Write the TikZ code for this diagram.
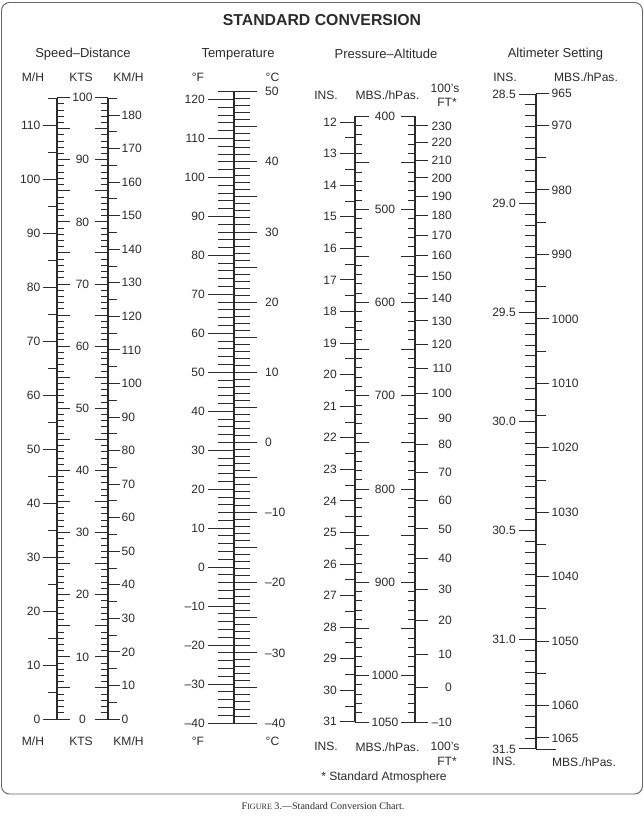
\documentclass[tikz,border=0pt]{standalone}
\usepackage{fontspec}
\setmainfont{Liberation Sans}
\newfontfamily\capfont{Liberation Serif}
\definecolor{ink}{HTML}{2B2B2B}
\newcommand\dashnum[1]{\ifnum#1<0 \textendash\number\numexpr0-#1\relax\else#1\fi}

\tikzset{
  axisline/.style={draw=ink, line width=0.95pt},
  tk/.style={draw=ink, line width=0.8pt},
  lbl/.style={inner sep=0pt, text=ink, font=\fontsize{10.3}{12}\selectfont},
  head/.style={inner sep=0pt, text=ink, font=\fontsize{11.1}{13}\selectfont},
}

\begin{document}
\begin{tikzpicture}[x=0.3mm, y=-0.3mm]
  \useasboundingbox (0,0) rectangle (644,817);
  \draw[draw=gray!80!black, line width=0.8pt, rounded corners=2.4mm] (1.5,2.5) rectangle (642.5,794);
  \node[inner sep=0pt, text=ink, font=\fontsize{13.5}{15}\selectfont\bfseries] (title) at (322,20) {STANDARD CONVERSION};

  % speed - distance
  \node[head] (hspeed) at (83,54) {Speed\textendash Distance};
  \node[lbl] (mphtop) at (33,77) {M/H};
  \node[lbl] (ktstop) at (81,77) {KTS};
  \node[lbl] (kmhtop) at (128.5,77) {KM/H};
  \node[lbl] (mphbot) at (33,741) {M/H};
  \node[lbl] (ktsbot) at (81,741) {KTS};
  \node[lbl] (kmhbot) at (128.5,741) {KM/H};
  \draw[axisline] (57,97.6) -- (57,719);
  \draw[axisline] (108,97.6) -- (108,719);
  \foreach \k in {0,...,100}{
    \pgfmathsetmacro\yk{719-6.2142*\k}
    \pgfmathtruncatemacro\rfive{mod(\k,5)}
    \pgfmathtruncatemacro\rten{mod(\k,10)}
    \ifnum\rfive=0
      \draw[tk] (57,\yk) -- (70,\yk) (95,\yk) -- (108,\yk);
    \else
      \draw[tk] (57,\yk) -- (64,\yk) (101,\yk) -- (108,\yk);
    \fi
    \ifnum\rten=0
      \node[lbl] (kts\k) at (82.5,\yk) {\k};
    \fi
  }
  \foreach \m in {0,5,...,115}{
    \pgfmathsetmacro\ym{719-5.4*\m}
    \pgfmathtruncatemacro\rten{mod(\m,10)}
    \ifnum\rten=0
      \draw[tk] (43,\ym) -- (57,\ym);
      \node[lbl, anchor=east] (mph\m) at (40.5,\ym) {\m};
    \else
      \draw[tk] (48,\ym) -- (57,\ym);
    \fi
  }
  \foreach \c in {0,5,...,185}{
    \pgfmathsetmacro\yc{719-3.3554*\c}
    \pgfmathtruncatemacro\rten{mod(\c,10)}
    \ifnum\rten=0
      \draw[tk] (108,\yc) -- (120,\yc);
      \node[lbl, anchor=west] (kmh\c) at (121.5,\yc) {\c};
    \else
      \draw[tk] (108,\yc) -- (117,\yc);
    \fi
  }

  % temperature
  \node[head] (htemp) at (238,54) {Temperature};
  \node[lbl] (degftop) at (198,77) {°F};
  \node[lbl] (degctop) at (272.5,77) {°C};
  \node[lbl] (degfbot) at (198,741) {°F};
  \node[lbl] (degcbot) at (272.5,741) {°C};
  \draw[axisline] (234,91.7) -- (234,723);
  \foreach \f in {-40,-38,...,122}{
    \pgfmathsetmacro\yf{723-3.897*(\f+40)}
    \pgfmathtruncatemacro\rten{mod(\f,10)}
    \ifnum\rten=0
      \draw[tk] (208,\yf) -- (234,\yf);
      \node[lbl, anchor=east] (degf\f) at (205,\yf) {\dashnum{\f}};
    \else
      \draw[tk] (218,\yf) -- (234,\yf);
    \fi
  }
  \foreach \c in {-40,...,50}{
    \pgfmathsetmacro\yc{723-3.897*(1.8*\c+72)}
    \pgfmathtruncatemacro\rfive{mod(\c,5)}
    \pgfmathtruncatemacro\rten{mod(\c,10)}
    \ifnum\rfive=0
      \draw[tk] (234,\yc) -- (257,\yc);
    \else
      \draw[tk] (234,\yc) -- (250,\yc);
    \fi
    \ifnum\rten=0
      \node[lbl, anchor=west] (degc\c) at (265,\yc) {\dashnum{\c}};
    \fi
  }

  % pressure - altitude
  \node[head] (hpress) at (386,54) {Pressure\textendash Altitude};
  \node[lbl] (instop) at (326,95) {INS.};
  \node[lbl] (mbtop) at (387.5,95) {MBS./hPas.};
  \node[lbl] (fttop) at (445,88) {100's};
  \node[lbl] (ftstar) at (447,102.7) {FT*};
  \node[lbl] (insbot) at (326,746.7) {INS.};
  \node[lbl] (mbbot) at (387.5,746.7) {MBS./hPas.};
  \node[lbl] (ftbot) at (445,746.7) {100's};
  \node[lbl] (ftstarbot) at (447,761) {FT*};
  \node[lbl] (stdatm) at (384,777.5) {* Standard Atmosphere};
  \draw[axisline] (355,116.2) -- (355,722);
  \draw[axisline] (415,116.2) -- (415,722);
  \foreach \p in {400,410,...,1050}{
    \pgfmathsetmacro\yp{722-0.932*(1050-\p)}
    \pgfmathtruncatemacro\rfifty{mod(\p,50)}
    \ifnum\rfifty=0
      \draw[tk] (355,\yp) -- (369,\yp) (401,\yp) -- (415,\yp);
    \else
      \draw[tk] (355,\yp) -- (362,\yp) (408,\yp) -- (415,\yp);
    \fi
  }
  \foreach \p in {400,500,...,1000,1050}{
    \pgfmathsetmacro\yp{722-0.932*(1050-\p)}
    \node[lbl] (mb\p) at (385,\yp) {\p};
  }
  \foreach \i in {24,...,62}{
    \pgfmathsetmacro\yi{722-0.932*(1050-33.8639*\i/2)}
    \pgfmathtruncatemacro\rtwo{mod(\i,2)}
    \pgfmathtruncatemacro\ins{\i/2}
    \ifnum\rtwo=0
      \draw[tk] (340,\yi) -- (355,\yi);
      \node[lbl, anchor=east] (ins\ins) at (337,\yi) {\ins};
    \else
      \draw[tk] (345,\yi) -- (355,\yi);
    \fi
  }
  \foreach \h in {-10,0,...,230}{
    \pgfmathsetmacro\ph{1013.25*(1-0.00068756*\h)^5.2559}
    \pgfmathsetmacro\yh{722-0.932*(1050-\ph)}
    \draw[tk] (415,\yh) -- (428,\yh);
    \node[lbl, anchor=east] (ft\h) at (452,\yh) {\dashnum{\h}};
  }

  % altimeter setting
  \node[head] (halt) at (555.5,54) {Altimeter Setting};
  \node[lbl] (alinstop) at (505,77) {INS.};
  \node[lbl] (almbtop) at (586,77) {MBS./hPas.};
  \node[lbl] (alinsbot) at (504,761.7) {INS.};
  \node[lbl] (almbbot) at (584,761.7) {MBS./hPas.};
  \draw[axisline] (536,94) -- (536,749);
  \foreach \n in {0,...,60}{
    \pgfmathsetmacro\yn{94+10.915*\n}
    \pgfmathtruncatemacro\rten{mod(\n,10)}
    \ifnum\rten=0
      \draw[tk] (519,\yn) -- (536,\yn);
    \else
      \draw[tk] (525,\yn) -- (536,\yn);
    \fi
  }
  \foreach \n/\t in {0/28.5,10/29.0,20/29.5,30/30.0,40/30.5,50/31.0,60/31.5}{
    \node[lbl, anchor=east] (alins\n) at (516,94+10.915*\n) {\t};
  }
  \draw[tk] (536,749) -- (556,749);
  \foreach \p in {965,970,...,1065}{
    \pgfmathsetmacro\yp{94+(\p/33.8639-28.5)*218.3}
    \draw[tk] (536,\yp) -- (546,\yp);
  }
  \foreach \p in {965,970,980,...,1060,1065}{
    \pgfmathsetmacro\yp{94+(\p/33.8639-28.5)*218.3}
    \draw[tk] (536,\yp) -- (548.5,\yp);
    \node[lbl, anchor=west] (almb\p) at (551.5,\yp) {\p};
  }

  \node[inner sep=0pt, text=ink, font=\capfont\fontsize{8.6}{10}\selectfont] (caption) at (323,806)
    {F{\fontsize{6.9}{8}\selectfont IGURE} 3.\textemdash Standard Conversion Chart.};
\end{tikzpicture}
\end{document}
